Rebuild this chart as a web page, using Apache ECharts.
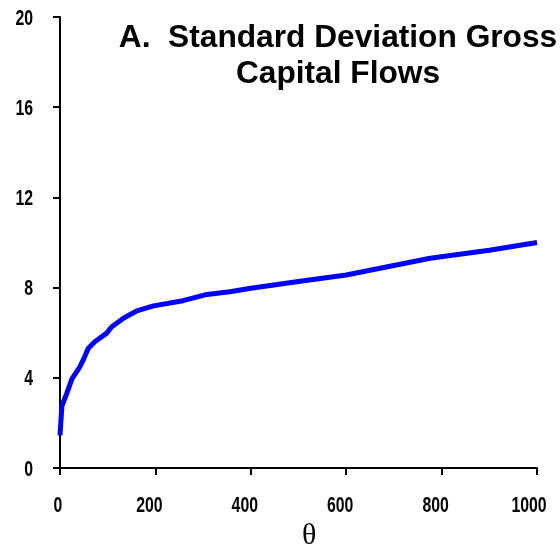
<!DOCTYPE html>
<html>
<head>
<meta charset="utf-8">
<script src="https://cdn.jsdelivr.net/npm/echarts@6/dist/echarts.min.js"></script>
<style>
  html, body { margin: 0; padding: 0; background: #fff; }
  #chart { width: 560px; height: 548px; }
</style>
</head>
<body>
<div id="chart"></div>
<script>
// Scale parameter theta and the resulting standard deviation of gross capital flows
const thetaValues = [0, 4, 14, 25, 42, 50, 59, 73, 98, 108, 133, 161, 196, 258, 304, 356, 400, 500, 600, 671, 776, 900, 1000];
const sdValues    = [1.45, 2.75, 3.3, 3.95, 4.5, 4.85, 5.3, 5.6, 5.98, 6.25, 6.64, 6.97, 7.19, 7.42, 7.68, 7.82, 7.97, 8.27, 8.56, 8.86, 9.30, 9.66, 10.0];
const yTickLabels = [0, 4, 8, 12, 16, 20];
const xTickLabels = [0, 200, 400, 600, 800, 1000];
const titleText = 'A.  Standard Deviation Gross\nCapital Flows';
const xName = 'θ';

const points = thetaValues.map((t, i) => [t, sdValues[i]]);
const yStep = yTickLabels[1] - yTickLabels[0];
const xStep = xTickLabels[1] - xTickLabels[0];

// Narrow tick-label face: a bold sans squeezed horizontally
const tickFont = 'bold 22px "Liberation Sans", Arial, sans-serif';
const tickSqueeze = 0.72;

const chart = echarts.init(document.getElementById('chart'), null, { renderer: 'canvas' });
chart.setOption({
  animation: false,
  backgroundColor: '#fff',
  title: {
    text: titleText,
    left: 333,
    top: 15,
    textAlign: 'center',
    textStyle: {
      fontFamily: '"Liberation Sans", Arial, sans-serif',
      fontWeight: 'bold',
      fontSize: 31.7,
      lineHeight: 36,
      color: '#000'
    }
  },
  grid: { left: 60, right: 23, top: 17, bottom: 80, containLabel: false },
  xAxis: {
    type: 'value',
    min: xTickLabels[0],
    max: xTickLabels[xTickLabels.length - 1],
    interval: xStep,
    axisLine: { show: true, lineStyle: { color: '#000', width: 2 } },
    axisTick: { show: true, length: 7, lineStyle: { color: '#000', width: 2 } },
    axisLabel: { show: false },
    splitLine: { show: false }
  },
  yAxis: {
    type: 'value',
    min: yTickLabels[0],
    max: yTickLabels[yTickLabels.length - 1],
    interval: yStep,
    axisLine: { show: true, lineStyle: { color: '#000', width: 2 } },
    axisTick: { show: true, length: 7, lineStyle: { color: '#000', width: 2 } },
    axisLabel: { show: false },
    splitLine: { show: false }
  },
  series: [{
    type: 'line',
    data: points,
    showSymbol: false,
    smooth: false,
    lineStyle: { color: '#0000ff', width: 5 },
    itemStyle: { color: '#0000ff' }
  }]
});

// Tick labels placed at the positions the axes give for each tick value
const labels = [];
xTickLabels.forEach(v => {
  const text = String(v);
  const px = chart.convertToPixel({ xAxisIndex: 0 }, v);
  const py = chart.convertToPixel({ yAxisIndex: 0 }, yTickLabels[0]);
  labels.push({
    type: 'text', x: px - 2 * text.length, y: py + 38, scaleX: tickSqueeze, silent: true,
    style: { text: text, font: tickFont, fill: '#000', textAlign: 'center', textVerticalAlign: 'middle' }
  });
});
yTickLabels.forEach(v => {
  const px = chart.convertToPixel({ xAxisIndex: 0 }, xTickLabels[0]);
  const py = chart.convertToPixel({ yAxisIndex: 0 }, v);
  labels.push({
    type: 'text', x: px - 27, y: py + 1.5, scaleX: tickSqueeze, silent: true,
    style: { text: String(v), font: tickFont, fill: '#000', textAlign: 'right', textVerticalAlign: 'middle' }
  });
});
labels.push({
  type: 'text', left: 302, top: 521, silent: true,
  style: { text: xName, font: '30px "Liberation Serif", "DejaVu Serif", serif', fill: '#000' }
});
chart.setOption({ graphic: labels });
</script>
</body>
</html>
